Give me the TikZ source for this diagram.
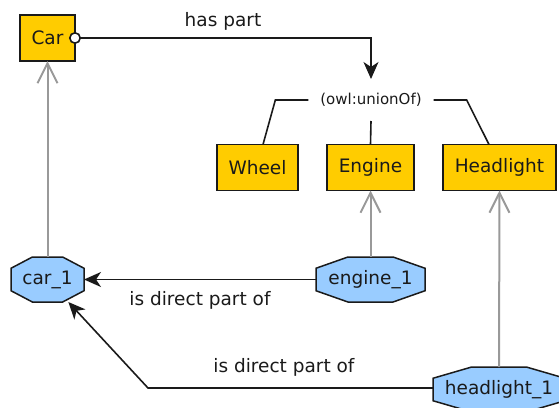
\documentclass[tikz,border=0pt]{standalone}
\usepackage{fontspec}
\setmainfont{DejaVu Sans}
\usetikzlibrary{arrows.meta,calc,backgrounds}
\definecolor{clsfill}{HTML}{FFCC00}
\definecolor{indfill}{HTML}{99CCFF}
\definecolor{isagray}{HTML}{999999}
\definecolor{ink}{HTML}{1A1A1A}
\newcommand\octagonshape[1]{%
  \filldraw[indbox]
    ($(#1.north west)!0.293!(#1.north east)$) --
    ($(#1.north west)!0.707!(#1.north east)$) --
    ($(#1.north east)!0.25!(#1.south east)$) --
    ($(#1.north east)!0.75!(#1.south east)$) --
    ($(#1.south west)!0.707!(#1.south east)$) --
    ($(#1.south west)!0.293!(#1.south east)$) --
    ($(#1.north west)!0.75!(#1.south west)$) --
    ($(#1.north west)!0.25!(#1.south west)$) -- cycle;}
\tikzset{
  bigfont/.style={font=\fontsize{18.5pt}{22pt}\selectfont, text=ink},
  cls/.style={bigfont, draw=ink, line width=1.5pt, fill=clsfill, minimum height=46pt, inner sep=0pt, outer sep=0pt},
  ind/.style={bigfont, minimum height=45pt, inner sep=0pt, outer sep=0pt},
  indbox/.style={fill=indfill, draw=ink, line width=1.5pt, line join=miter},
  plainline/.style={draw=ink, line width=1.6pt},
  reltip/.tip={Stealth[length=17pt,width=15pt,inset=5pt]},
  rel/.style={draw=ink, line width=1.6pt, -reltip},
  isa/.style={draw=isagray, line width=2pt, -{Straight Barb[length=20pt,width=20pt]}},
  lbl/.style={bigfont}
}
\begin{document}
\begin{tikzpicture}[x=1pt,y=-1pt]
\useasboundingbox (0,0) rectangle (559,407);
% classes
\node[cls, minimum width=55pt] (Car) at (47.5,38) {Car};
\node[cls, minimum width=81pt] (Wheel) at (257.5,167.5) {Wheel};
\node[cls, minimum width=87pt] (Engine) at (370.5,167.5) {Engine};
\node[cls, minimum width=113pt] (Headlight) at (499.5,167.5) {Headlight};
\node[font=\fontsize{15pt}{18pt}\selectfont, text=ink, minimum height=42pt, inner xsep=12pt, inner ysep=0pt, outer sep=0pt] (union) at (371,100) {(owl:unionOf)};
% individuals
\node[ind, minimum width=73pt] (car_1) at (47.5,279.5) {car\_1};
\node[ind, minimum width=109pt] (engine_1) at (370.5,279.5) {engine\_1};
\node[ind, minimum width=132pt] (headlight_1) at (499,389.5) {headlight\_1};
\begin{scope}[on background layer]
  \octagonshape{car_1}
  \octagonshape{engine_1}
  \octagonshape{headlight_1}
\end{scope}
% union lines
\draw[plainline] (union.west) -- ++(-33,0) -- ($(Wheel.north)+(5.5,0)$);
\draw[plainline] (union.south) -- (Engine.north);
\draw[plainline] (union.east) -- ++(33,0) -- ($(Headlight.north)+(-10.5,0)$);
% has part
\draw[rel, {Circle[fill=white,length=12pt,width=12pt]}-reltip, shorten <=-6pt]
  (Car.east) -| node[lbl, pos=0.25, yshift=17pt] {has part} (union.north);
% instance-of arrows
\draw[isa] (car_1.north) -- (Car.south);
\draw[isa] (engine_1.north) -- (Engine.south);
\draw[isa] (headlight_1.north) -- (Headlight.south);
% is direct part of
\draw[rel] (engine_1.west) -- node[lbl, midway, yshift=-21pt] {is direct part of} (car_1.east);
\coordinate (bend) at (148,388);
\draw[rel] (headlight_1.west |- bend) -- node[lbl, pos=0.523, yshift=21pt] {is direct part of} (bend) -- (car_1);
\end{tikzpicture}
\end{document}
